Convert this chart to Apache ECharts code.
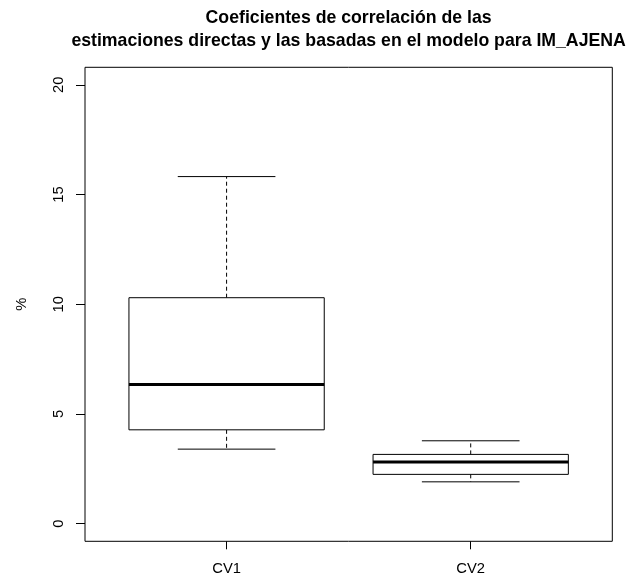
<!DOCTYPE html>
<html>
<head>
<meta charset="utf-8">
<script src="https://cdn.jsdelivr.net/npm/echarts@6/dist/echarts.min.js"></script>
<style>html,body{margin:0;padding:0;background:#fff}#c{width:631px;height:578px}</style>
</head>
<body>
<div id="c"></div>
<script>
var categories = ['CV1', 'CV2'];
var lowWhisker = [3.40, 1.91];
var q1 = [4.28, 2.25];
var median = [6.34, 2.81];
var q3 = [10.30, 3.16];
var highWhisker = [15.82, 3.78];
var yTicks = [0, 5, 10, 15, 20];
var titleLines = ['Coeficientes de correlación de las', 'estimaciones directas y las basadas en el modelo para IM_AJENA'];
var yTitle = '%';

var FONT = '"Liberation Sans", Arial, Helvetica, sans-serif';
var data = categories.map(function (c, i) {
  return [i + 1, lowWhisker[i], q1[i], median[i], q3[i], highWhisker[i]];
});

var chart = echarts.init(document.getElementById('c'), null, {renderer: 'canvas'});
chart.setOption({
  backgroundColor: '#fff',
  animation: false,
  graphic: [
    {type: 'text', x: 348.6, y: 18, style: {text: titleLines[0], textAlign: 'center', textVerticalAlign: 'middle', font: 'bold 17.7px ' + FONT, fill: '#000'}},
    {type: 'text', x: 348.6, y: 41, style: {text: titleLines[1], textAlign: 'center', textVerticalAlign: 'middle', font: 'bold 17.7px ' + FONT, fill: '#000'}}
  ],
  grid: {left: 85, right: 18.7, top: 67.3, bottom: 36.7, show: true, borderColor: '#000', borderWidth: 1, backgroundColor: 'transparent', containLabel: false, outerBoundsMode: 'none'},
  xAxis: {
    type: 'value', min: 0.42, max: 2.58,
    splitLine: {show: false},
    axisLine: {show: false, onZero: false},
    axisTick: {show: true, inside: false, length: 8, customValues: [1, 2], lineStyle: {color: '#000', width: 1}},
    axisLabel: {show: true, customValues: [1, 2], margin: 20, color: '#000', fontSize: 14.75, fontFamily: FONT,
      formatter: function (v) { return categories[Math.round(v) - 1] || ''; }}
  },
  yAxis: {
    type: 'value', min: -0.8, max: 20.8,
    name: yTitle, nameLocation: 'middle', nameRotate: 90, nameGap: 56,
    nameTextStyle: {color: '#000', fontSize: 14.75, fontFamily: FONT},
    splitLine: {show: false},
    axisLine: {show: false, onZero: false},
    axisTick: {show: true, inside: false, length: 9, customValues: yTicks, lineStyle: {color: '#000', width: 1}},
    axisLabel: {show: true, customValues: yTicks, rotate: 90, margin: 19, color: '#000', fontSize: 14.75, fontFamily: FONT}
  },
  series: [{
    type: 'custom',
    encode: {x: 0, y: [1, 2, 3, 4, 5]},
    data: data,
    renderItem: function (params, api) {
      var x = api.value(0);
      var boxHalf = 0.4, capHalf = 0.2;
      var yLo = api.coord([x, api.value(1)])[1];
      var yQ1 = api.coord([x, api.value(2)])[1];
      var yMed = api.coord([x, api.value(3)])[1];
      var yQ3 = api.coord([x, api.value(4)])[1];
      var yHi = api.coord([x, api.value(5)])[1];
      var xc = api.coord([x, 0])[0];
      var xb0 = api.coord([x - boxHalf, 0])[0];
      var xb1 = api.coord([x + boxHalf, 0])[0];
      var xc0 = api.coord([x - capHalf, 0])[0];
      var xc1 = api.coord([x + capHalf, 0])[0];
      var solid = {stroke: '#000', lineWidth: 1, fill: null};
      var dashed = {stroke: '#000', lineWidth: 1, lineDash: [4, 3], fill: null};
      return {
        type: 'group',
        children: [
          {type: 'line', shape: {x1: xc, y1: yQ3, x2: xc, y2: yHi}, style: dashed},
          {type: 'line', shape: {x1: xc, y1: yQ1, x2: xc, y2: yLo}, style: dashed},
          {type: 'line', shape: {x1: xc0, y1: yHi, x2: xc1, y2: yHi}, style: solid},
          {type: 'line', shape: {x1: xc0, y1: yLo, x2: xc1, y2: yLo}, style: solid},
          {type: 'rect', shape: {x: xb0, y: yQ3, width: xb1 - xb0, height: yQ1 - yQ3}, style: {stroke: '#000', lineWidth: 1, fill: '#fff'}},
          {type: 'line', shape: {x1: xb0, y1: yMed, x2: xb1, y2: yMed}, style: {stroke: '#000', lineWidth: 3}}
        ]
      };
    }
  }]
});
</script>
</body>
</html>
